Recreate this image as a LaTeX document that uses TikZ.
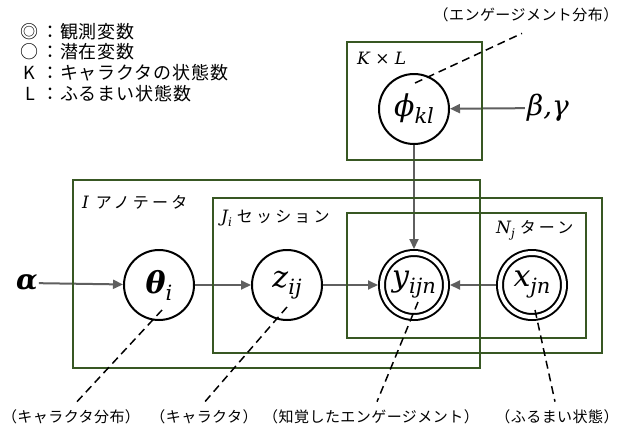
\RequirePackage{fix-cm}
\documentclass[tikz,border=0pt]{standalone}
\usepackage{fontspec}
\usetikzlibrary{arrows.meta,calc}
\newfontfamily\jpleg[LetterSpace=5]{Noto Sans CJK JP}
\newfontfamily\jplab[LetterSpace=3]{Noto Sans CJK JP}
\newfontfamily\jpplate[LetterSpace=20]{Noto Sans CJK JP}
\newfontfamily\vf{DejaVu Serif}
\newcommand\vsub[2][7pt]{\raisebox{-#1}{\fontsize{21}{23}\selectfont #2}}
\newcommand\psub[1]{\raisebox{-4pt}{\fontsize{12}{14}\selectfont #1}}
\definecolor{plategreen}{RGB}{56,87,35}
\definecolor{arrowgray}{RGB}{95,95,95}
\tikzset{
 lat/.style={circle,draw=black,line width=2pt,minimum size=70pt,inner sep=0pt,outer sep=1pt,fill=white,font={\vf\itshape\fontsize{30}{32}\selectfont}},
 obs/.style={circle,draw=black,line width=2pt,double=white,double distance=4pt,minimum size=64pt,inner sep=0pt,outer sep=4pt,fill=white,font={\vf\itshape\fontsize{30}{32}\selectfont}},
 platebox/.style={draw=plategreen,line width=2.5pt},
 conn/.style={draw=arrowgray,line width=2pt,-{Triangle[length=10pt,width=9pt]}},
 dashl/.style={draw=black,line width=1.5pt,dash pattern=on 8pt off 5pt},
 leg/.style={inner sep=0pt,font={\jpleg\fontsize{18}{20}\selectfont}},
 lab/.style={inner sep=0pt,font={\jplab\fontsize{15}{17}\selectfont}},
 platelab/.style={anchor=west,inner sep=0pt,font={\vf\itshape\fontsize{17}{20}\selectfont}}
}
\begin{document}
\begin{tikzpicture}[x=1pt,y=-1pt]
\useasboundingbox[fill=white] (0,0) rectangle (622,432);

% legend
\node[leg] (s1) at (29,32) {◎};
\node[leg,anchor=west] (t1) at (41,32) {：観測変数};
\node[leg] (s2) at (29,52) {○};
\node[leg,anchor=west] (t2) at (41,52) {：潜在変数};
\node[leg] (s3) at (29,73) {K};
\node[leg,anchor=west] (t3) at (41,73) {：キャラクタの状態数};
\node[leg] (s4) at (30,94) {L};
\node[leg,anchor=west] (t4) at (41,94) {：ふるまい状態数};

% variables
\node[lat] (phi) at (414,109) {ϕ\vsub{kl}};
\node[lat] (theta) at (159,285) {{\bfseries θ}\vsub{i}};
\node[lat] (z) at (287,285) {z\vsub{ij}};
\node[obs] (y) at (414,285) {y\vsub{ijn}};
\node[obs] (x) at (532,285) {x\vsub{jn}};
\node[inner sep=1pt,font={\vf\bfseries\itshape\fontsize{28}{30}\selectfont}] (alpha) at (27,283) {α};
\node[inner sep=2pt,font={\vf\itshape\fontsize{28}{30}\selectfont}] (bg) at (548,108) {β,γ};

% connectors
\draw[conn] (alpha) -- (theta);
\draw[conn] (theta) -- (z);
\draw[conn] (z) -- (y);
\draw[conn] (x) -- (y);
\draw[conn] (phi) -- (y);
\draw[conn] (bg) -- (phi);

% plates
\draw[platebox] (347,42) rectangle (482,160);
\draw[platebox] (73,180) rectangle (480,368);
\draw[platebox] (213,198) rectangle (602,353);
\draw[platebox] (347,213) rectangle (586,338);

\node[platelab] (pk) at (357,58) {K {\upshape ×} L};
\node[platelab] (pi) at (82,202) {I\hspace{7pt}{\jpplate\fontsize{16}{18}\selectfont アノテータ}};
\node[platelab] (pj) at (221,218) {J\psub{i}\hspace{5pt}{\jpplate\fontsize{16}{18}\selectfont セッション}};
\node[platelab] (pn) at (496,230) {N\psub{j}\hspace{5pt}{\jpplate\fontsize{16}{18}\selectfont ターン}};

% annotation labels
\node[lab] (l1) at (71,417) {（キャラクタ分布）};
\node[lab] (l2) at (204,417) {（キャラクタ）};
\node[lab] (l3) at (371,417) {（知覚したエンゲージメント）};
\node[lab] (l4) at (557,417) {（ふるまい状態）};
\node[lab] (l5) at (526,15) {（エンゲージメント分布）};

% dashed pointers
\draw[dashl] ($(phi)+(1,-26)$) -- ($(l5.south)+(-4,11)$);
\draw[dashl] ($(theta)+(3,25)$) -- ($(l1.north)+(6,-8)$);
\draw[dashl] ($(z)+(0,22)$) -- ($(l2.north)+(1,-8)$);
\draw[dashl] ($(y)+(4,17)$) -- ($(l3.north)+(6,-8)$);
\draw[dashl] ($(x)+(3,25)$) -- ($(l4.north)+(-2,-8)$);
\end{tikzpicture}
\end{document}
